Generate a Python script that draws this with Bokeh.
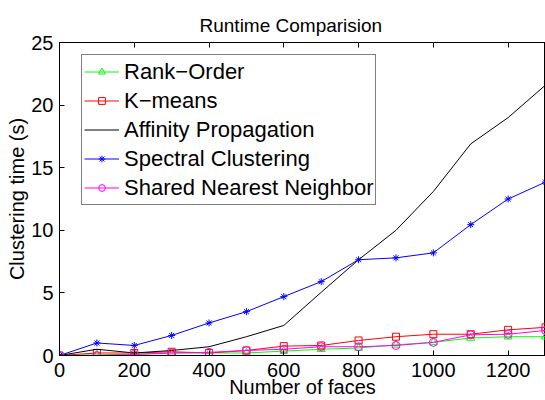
from bokeh.plotting import figure
from bokeh.models import (Legend, LegendItem, LinearAxis, FixedTicker, Title, Range1d,
                          CustomJSTickFormatter)
from bokeh.embed import file_html
from bokeh.resources import INLINE

faces = [0, 100, 200, 300, 400, 500, 600, 700, 800, 900, 1000, 1100, 1200, 1300]
rank_order = [0, 0.05, 0.1, 0.2, 0.2, 0.2, 0.35, 0.5, 0.6, 0.85, 1.05, 1.4, 1.5, 1.5]
kmeans = [0, 0.2, 0.2, 0.3, 0.2, 0.4, 0.75, 0.8, 1.2, 1.5, 1.7, 1.7, 2.05, 2.25]
affinity = [0, 0.5, 0.2, 0.4, 0.7, 1.5, 2.4, 5.05, 7.65, 10.0, 13.1, 16.9, 19.0, 21.6]
spectral = [0, 1.0, 0.8, 1.6, 2.6, 3.5, 4.7, 5.9, 7.65, 7.8, 8.2, 10.45, 12.5, 13.85]
snn = [0, 0.0, 0.08, 0.2, 0.25, 0.4, 0.5, 0.7, 0.7, 0.8, 1.05, 1.65, 1.7, 2.0]

x_ticks = [0, 200, 400, 600, 800, 1000, 1200]
y_ticks = [0, 5, 10, 15, 20, 25]

FONT = "Liberation Sans"

p = figure(width=545, height=400, x_range=Range1d(0, 1300), y_range=Range1d(0, 25),
           output_backend="svg", toolbar_location=None,
           min_border_left=59, min_border_right=0, min_border_top=42, min_border_bottom=45)
p.xgrid.visible = False
p.ygrid.visible = False
p.outline_line_color = "black"
p.outline_line_width = 1
p.background_fill_color = "white"
p.border_fill_color = "white"

for ax, ticks in ((p.xaxis[0], x_ticks), (p.yaxis[0], y_ticks)):
    ax.ticker = FixedTicker(ticks=ticks)
    ax.major_tick_in = 5
    ax.major_tick_out = 0
    ax.minor_tick_in = 0
    ax.minor_tick_out = 0
    ax.axis_line_color = "black"
    ax.major_tick_line_color = "black"
    ax.major_label_text_font = FONT
    ax.major_label_text_font_size = "20px"
    ax.major_label_text_color = "black"
    ax.axis_label_text_font = FONT
    ax.axis_label_text_font_style = "normal"
    ax.axis_label_text_color = "black"
    ax.axis_label_text_font_size = "20px"

p.xaxis.axis_label = "Number of faces"
p.xaxis.major_label_standoff = 7
p.xaxis.axis_label_standoff = -4
p.yaxis.axis_label = "Clustering time (s)"
p.yaxis.major_label_standoff = 6
p.yaxis.axis_label_standoff = 0

top = LinearAxis(ticker=FixedTicker(ticks=x_ticks), major_tick_in=5, major_tick_out=0,
                 minor_tick_in=0, minor_tick_out=0,
                 formatter=CustomJSTickFormatter(code="return ''"),
                 major_label_standoff=0, axis_line_color="black")
p.add_layout(top, "above")

p.add_layout(Title(text="Runtime Comparision", align="left", offset=140,
                   text_font=FONT, text_font_size="19px", text_font_style="normal",
                   text_color="black", standoff=13), "above")

r1l = p.line(faces, rank_order, line_color="#00ff00", line_width=1)
r1m = p.scatter(faces, rank_order, marker="triangle", size=8, line_color="#00ff00",
                fill_color=None, line_width=1)
r2l = p.line(faces, kmeans, line_color="#ff0000", line_width=1)
r2m = p.scatter(faces, kmeans, marker="square", size=7, line_color="#ff0000",
                fill_color=None, line_width=1)
r3l = p.line(faces, affinity, line_color="black", line_width=1)
r4l = p.line(faces, spectral, line_color="#0000ff", line_width=1)
r4m = p.scatter(faces, spectral, marker="asterisk", size=7, line_color="#0000ff", line_width=1)
r5l = p.line(faces, snn, line_color="#ff00ff", line_width=1)
r5m = p.scatter(faces, snn, marker="circle", size=8, line_color="#ff00ff",
                fill_color=None, line_width=1)

legend = Legend(items=[
    LegendItem(label="Rank\u2212Order", renderers=[r1l, r1m]),
    LegendItem(label="K\u2212means", renderers=[r2l, r2m]),
    LegendItem(label="Affinity Propagation", renderers=[r3l]),
    LegendItem(label="Spectral Clustering", renderers=[r4l, r4m]),
    LegendItem(label="Shared Nearest Neighbor", renderers=[r5l, r5m]),
], location=(22, 150), border_line_color="black", border_line_width=1,
    background_fill_color="white", background_fill_alpha=1.0,
    padding=2, spacing=0, margin=0, glyph_width=35, glyph_height=17, label_height=29,
    label_standoff=5, label_text_font=FONT, label_text_font_size="22px",
    label_text_color="black")
p.add_layout(legend)

open("out.html", "w").write(file_html(p, INLINE))
